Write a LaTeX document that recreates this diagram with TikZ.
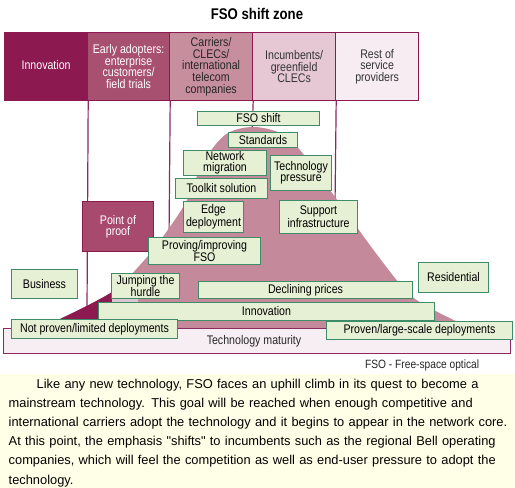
\documentclass[tikz,border=0pt]{standalone}
\usepackage{fontspec}
\setmainfont{Liberation Sans}[FakeStretch=0.85]
\newfontfamily\parafont{Liberation Sans}
\definecolor{mag}{HTML}{8C1A50}
\definecolor{hdrB}{HTML}{A8506F}
\definecolor{hdrC}{HTML}{C78E9E}
\definecolor{hdrD}{HTML}{E6C8D4}
\definecolor{hdrE}{HTML}{F7ECF1}
\definecolor{mount}{HTML}{C4899A}
\definecolor{lband}{HTML}{DCC6D2}
\definecolor{boxfill}{HTML}{E6F0D4}
\definecolor{boxedge}{HTML}{3F8C68}
\definecolor{barfill}{HTML}{F7EEF4}
\definecolor{pproof}{HTML}{A84A6E}
\definecolor{paper}{HTML}{FFFFE8}
\definecolor{vline}{HTML}{8C2A60}
\tikzset{
  hdr/.style={draw=mag, line width=1.2pt, minimum width=83pt, minimum height=68pt,
    anchor=north west, inner sep=0pt, align=center,
    font=\fontsize{12.5}{11.7}\selectfont},
  gbox/.style={draw=boxedge, fill=boxfill, line width=1pt, anchor=north west,
    inner sep=0pt, align=center, font=\fontsize{12.5}{11}\selectfont},
  vln/.style={draw=vline, line width=1.2pt},
  mt/.style={insert path={plot[smooth,tension=0.55] coordinates {(60,319) (112,292) (140,265) (162,238) (186,202) (203,163) (225,135) (252,127) (280,133) (300,150) (335,197) (378,256) (408,293) (432,309) (460,323)} -- (460,329) -- (60,329) -- cycle}}
}
\begin{document}
\begin{tikzpicture}[x=1pt,y=-1pt]
\useasboundingbox (0,0) rectangle (515,488);
\fill[white] (0,0) rectangle (515,488);
\fill[paper] (0,374) rectangle (515,488);
% title
\node[font=\fontsize{15.5}{16}\selectfont\bfseries] (title) at (257,13.5) {FSO shift zone};
% headers
\node[hdr, fill=mag, text=white, minimum width=83pt] (h1) at (4,32) {\raisebox{4pt}{Innovation}};
\node[hdr, fill=hdrB, text=white, minimum width=82pt] (h2) at (87,32) {Early adopters:\\enterprise\\customers/\\field trials};
\node[hdr, fill=hdrC, text=black!85, minimum width=83pt] (h3) at (169,32) {Carriers/\\CLECs/\\international\\telecom\\companies};
\node[hdr, fill=hdrD, text=black!80, minimum width=83pt] (h4) at (252,32) {Incumbents/\\greenfield\\CLECs};
\node[hdr, fill=hdrE, text=black!80, minimum width=83pt] (h5) at (335,32) {Rest of\\service\\providers};
% vertical lines
\coordinate (l1) at (87,310);
\coordinate (l2) at (169,240);
\coordinate (l3) at (252,135);
\coordinate (l4) at (335,205);
\draw[vln] (h1.south east) -- (l1);
\draw[vln] (h2.south east) -- (l2);
\draw[vln] (h3.south east) -- (l3);
\draw[vln] (h4.south east) -- (l4);
% mountain
\fill[mount, mt];
\begin{scope}
  \clip (0,250) rectangle (112,340);
  \fill[mag, mt];
\end{scope}
\begin{scope}
  \clip (112,290) rectangle (138,340);
  \fill[lband, mt];
\end{scope}
% technology maturity bar
\node[draw=vline, fill=barfill, line width=1pt, anchor=north west, inner sep=0pt,
  minimum width=507pt, minimum height=25pt, font=\fontsize{12.5}{12}\selectfont,
  text=black!85] (tm) at (3,328) {\raisebox{-2pt}{Technology maturity}\hspace*{6pt}};
% green boxes
\node[gbox, minimum width=122pt, minimum height=14pt] (fso) at (197,111) {FSO shift};
\node[gbox, minimum width=69pt, minimum height=15pt] (std) at (228,132) {Standards};
\node[gbox, minimum width=83pt, minimum height=25pt] (net) at (183,150) {Network\\migration};
\node[gbox, minimum width=61pt, minimum height=35pt] (tech) at (270,155) {Technology\\pressure};
\node[gbox, minimum width=92pt, minimum height=20pt] (tool) at (175,178) {Toolkit solution};
\node[gbox, minimum width=60pt, minimum height=31pt] (edge) at (183,201) {Edge\\deployment};
\node[gbox, minimum width=78pt, minimum height=33pt] (supp) at (279,200) {Support\\infrastructure};
\node[gbox, draw=mag, fill=pproof, text=white, minimum width=71pt, minimum height=50pt] (proof) at (82,201) {Point of\\proof};
\node[gbox, minimum width=112pt, minimum height=27pt] (prov) at (148,237) {Proving/improving\\FSO};
\node[gbox, minimum width=66pt, minimum height=29pt] (bus) at (11,269) {Business};
\node[gbox, minimum width=68pt, minimum height=25pt] (jump) at (111,273) {Jumping the\\hurdle};
\node[gbox, minimum width=70pt, minimum height=30pt] (res) at (418,262) {Residential};
\node[gbox, minimum width=214pt, minimum height=17pt] (decl) at (198,281) {Declining prices};
\node[gbox, minimum width=336pt, minimum height=18pt] (innov) at (98,302) {Innovation};
\node[gbox, minimum width=166pt, minimum height=19pt] (notp) at (11,319) {Not proven/limited deployments};
\node[gbox, minimum width=186pt, minimum height=18pt] (prov2) at (326,321) {Proven/large-scale deployments};
% footnote
\node[anchor=west, inner sep=0pt, font=\fontsize{12}{12}\selectfont, text=black!85] (fn) at (365,365) {FSO - Free-space optical};
% paragraph
\node[anchor=north west, inner sep=0pt, text width=507pt, align=left,
  font=\parafont\fontsize{12.85}{19.1}\selectfont] (para) at (8.5,379)
{\hspace*{28pt}Like any new technology, FSO faces an uphill climb in its quest to become a\\
mainstream technology. This goal will be reached when enough competitive and\\
international carriers adopt the technology and it begins to appear in the network core.\\
At this point, the emphasis "shifts" to incumbents such as the regional Bell operating\\
companies, which will feel the competition as well as end-user pressure to adopt the\\
technology.};
\end{tikzpicture}
\end{document}
